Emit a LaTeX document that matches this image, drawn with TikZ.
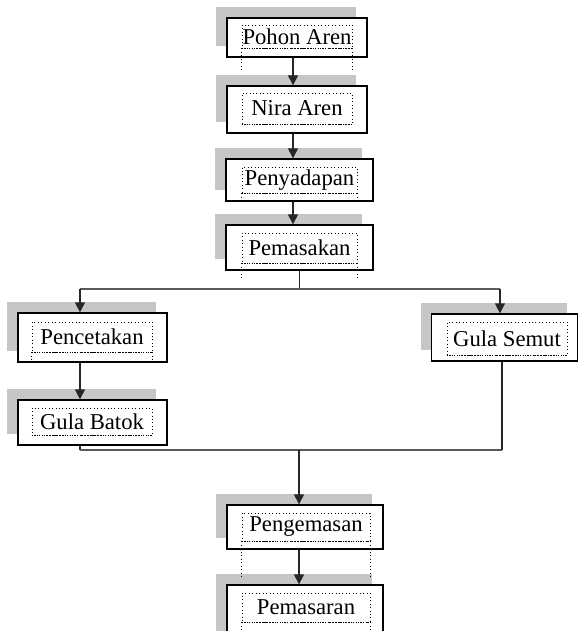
\documentclass[tikz,border=0pt]{standalone}
\usepackage{fontspec}
\setmainfont{Liberation Serif}
\usetikzlibrary{arrows.meta,shadows}

\begin{document}
\begin{tikzpicture}[x=0.75pt, y=-0.75pt, >={Triangle[length=7.5pt,width=7.5pt]},
  stepbox/.style={draw, line width=1pt, fill=white, inner sep=0pt,
    general shadow={fill=gray!45, shadow xshift=-8.25pt, shadow yshift=8.25pt}},
  txtbox/.style={draw, dotted, line width=0.6pt, inner sep=0pt,
    font=\fontsize{17}{20}\selectfont},
  flow/.style={line width=1pt, black!85},
  rail/.style={line width=1pt, black!65}]
\useasboundingbox (0,0) rectangle (579,631);
\clip (0,0) rectangle (579,631);
% boxes
\node [stepbox, minimum width=105pt, minimum height=29.25pt] (pohon) at (297,37.5) {};
\node [txtbox, minimum width=82.5pt, minimum height=17.25pt] (pohon-t) at (297,36.5) {Pohon Aren};
\node [stepbox, minimum width=105pt, minimum height=35.25pt] (nira) at (297,109.5) {};
\node [txtbox, minimum width=82.5pt, minimum height=23.25pt] (nira-t) at (297,108.5) {Nira Aren};
\node [stepbox, minimum width=110.25pt, minimum height=31.5pt] (sadap) at (299.5,180) {};
\node [txtbox, minimum width=86.25pt, minimum height=19.5pt] (sadap-t) at (299.5,180) {Penyadapan};
\node [stepbox, minimum width=110.25pt, minimum height=33.75pt] (masak) at (299.5,247.5) {};
\node [txtbox, minimum width=86.25pt, minimum height=22.5pt] (masak-t) at (299.5,248) {Pemasakan};
\node [stepbox, minimum width=111.75pt, minimum height=36.75pt] (cetak) at (92.5,337.5) {};
\node [txtbox, minimum width=90pt, minimum height=22.5pt] (cetak-t) at (92,337) {Pencetakan};
\node [stepbox, minimum width=111.75pt, minimum height=33.75pt] (batok) at (92.5,422.5) {};
\node [txtbox, minimum width=90pt, minimum height=20.25pt] (batok-t) at (92,421.5) {Gula Batok};
\node [stepbox, minimum width=109.5pt, minimum height=35.25pt] (semut) at (504.5,337.5) {};
\node [txtbox, minimum width=90pt, minimum height=24.75pt] (semut-t) at (507,338.5) {Gula Semut};
\node [stepbox, minimum width=117pt, minimum height=33pt] (kemas) at (305,527) {};
\node [txtbox, minimum width=96pt, minimum height=21pt] (kemas-t) at (306,527) {Pengemasan};
\node [stepbox, minimum width=117pt, minimum height=45pt] (pasar) at (305,615) {};
\node [txtbox, minimum width=96pt, minimum height=21.75pt] (pasar-t) at (306,607.5) {Pemasaran};
% heavier dotted bottom edges of the text boxes
\foreach \t in {pohon-t,nira-t,sadap-t,masak-t,cetak-t,batok-t,semut-t,kemas-t,pasar-t}
  \draw [densely dotted, line width=0.9pt] (\t.south west) -- (\t.south east);
% dotted sides below the text boxes
\draw [dotted, line width=0.6pt] (pohon-t.south west) -- ++(0,24) (pohon-t.south east) -- ++(0,24);
\draw [dotted, line width=0.6pt] (sadap-t.south west) -- ++(0,10) (sadap-t.south east) -- ++(0,10);
\draw [dotted, line width=0.6pt] (masak-t.south west) -- ++(0,17) (masak-t.south east) -- ++(0,17);
\draw [dotted, line width=0.6pt] (cetak-t.south west) -- ++(0,10) (cetak-t.south east) -- ++(0,10);
\draw [dotted, line width=0.6pt] (kemas-t.south west) -- ++(0,36) (kemas-t.south east) -- ++(0,36);
\draw [dotted, line width=0.6pt] (pasar-t.south west) -- ++(0,18) (pasar-t.south east) -- ++(0,18);
% connectors
\coordinate (split) at (298,289);
\coordinate (join) at (299,450);
\draw [flow,->] ([xshift=-3pt]pohon.south) -- ([xshift=-3pt]nira.north);
\draw [flow,->] ([xshift=-3pt]nira.south) -- ([xshift=-3pt]nira.south |- sadap.north);
\draw [flow,->] ([xshift=-3pt]nira.south |- sadap.south) -- ([xshift=-3pt]nira.south |- masak.north);
\draw [flow] (masak.south) -- (masak.south |- split);
\draw [rail] ([xshift=-9.4pt]cetak.north |- split) -- ([xshift=-3.4pt]semut.north |- split);
\draw [flow,->] ([xshift=-9.4pt]cetak.north |- split) -- ([xshift=-9.4pt]cetak.north);
\draw [flow,->] ([xshift=-3.4pt]semut.north |- split) -- ([xshift=-3.4pt]semut.north);
\draw [flow,->] ([xshift=-9.4pt]cetak.south) -- ([xshift=-9.4pt]batok.north);
\draw [flow] ([xshift=-9.4pt]batok.south) -- ([xshift=-9.4pt]batok.south |- join);
\draw [rail] ([xshift=-9.4pt]batok.south |- join) -- ([xshift=-2pt]semut.south |- join);
\draw [flow] ([xshift=-2pt]semut.south) -- ([xshift=-2pt]semut.south |- join);
\draw [flow,->] (join) -- (join |- kemas.north);
\draw [flow,->] ([xshift=-4.5pt]kemas.south) -- ([xshift=-4.5pt]kemas.south |- pasar.north);
\end{tikzpicture}
\end{document}
